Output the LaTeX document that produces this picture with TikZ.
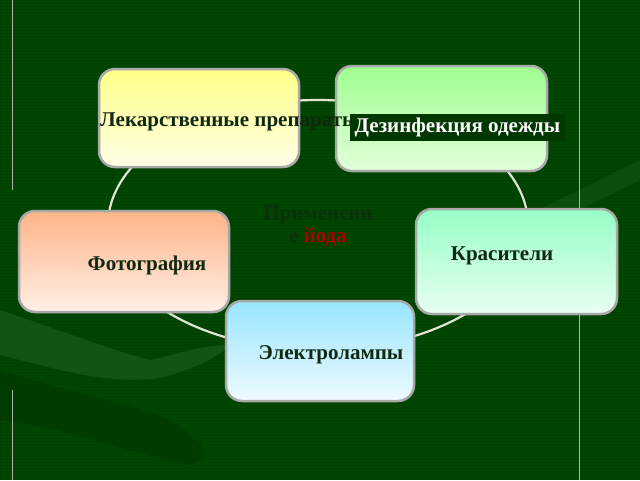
\documentclass[tikz,border=0pt]{standalone}
\usepackage{fontspec}
\setmainfont{Liberation Serif}
\definecolor{bg}{HTML}{004600}
\definecolor{bgline}{HTML}{004000}
\definecolor{swl}{HTML}{1A5A1A}
\definecolor{swd}{HTML}{003C00}
\definecolor{frame}{HTML}{A8A8A8}
\definecolor{ring}{HTML}{E4E4D4}
\definecolor{txt}{HTML}{102810}
\definecolor{ghost}{HTML}{0C300C}
\definecolor{iodine}{HTML}{B00000}
\definecolor{lbl}{HTML}{003800}
\definecolor{yt}{HTML}{FFFF88}\definecolor{yb}{HTML}{FFFFE6}
\definecolor{gt}{HTML}{A0FF90}\definecolor{gb}{HTML}{E2FFDA}
\definecolor{ot}{HTML}{FFB488}\definecolor{ob}{HTML}{FFF0E6}
\definecolor{mt}{HTML}{96FFC4}\definecolor{mb}{HTML}{E8FFF2}
\definecolor{bt}{HTML}{98E6FF}\definecolor{bb}{HTML}{EEFAFF}
\tikzset{
  card/.style={draw=frame, line width=2.5pt, rounded corners=16pt, inner sep=0pt},
  cardtext/.style={font=\bfseries\fontsize{21}{23}\selectfont, text=txt, inner sep=0pt},
  vline/.style={draw=gray!60, line width=0.8pt},
}
\begin{document}
\begin{tikzpicture}[x=1pt,y=-1pt]
\useasboundingbox (0,0) rectangle (640,480);
\fill[bg] (0,0) rectangle (640,480);
\foreach \k in {0,3,...,477} {\fill[bgline] (0,\k) rectangle (640,\k+1);}
% background swooshes
\fill[swd] (0,370) .. controls (60,390) and (120,400) .. (170,420)
  .. controls (200,440) and (220,455) .. (190,465)
  .. controls (150,460) and (80,430) .. (0,420) -- cycle;
\fill[swl,opacity=0.7] (0,310) .. controls (60,330) and (110,350) .. (150,360)
  .. controls (175,355) and (200,345) .. (230,345)
  .. controls (215,360) and (190,370) .. (160,378)
  .. controls (110,385) and (60,370) .. (0,355) -- cycle;
\fill[swl,opacity=0.45] (420,262) .. controls (500,230) and (580,190) .. (640,160)
  -- (640,180) .. controls (580,210) and (500,250) .. (428,276) -- cycle;
% frame lines
\draw[vline] (12,0) -- (12,190);
\draw[vline] (12,390) -- (12,480);
\draw[vline] (579,0) -- (579,480);
% ring
\draw[ring, line width=2.2pt] (318,225) ellipse [x radius=210, y radius=125];
% cards
\node[card, top color=yt, bottom color=yb, minimum width=200pt, minimum height=98pt] (lek) at (199,118) {};
\node[card, top color=gt, bottom color=gb, minimum width=211pt, minimum height=105pt] (dez) at (441.5,118.5) {};
\node[card, top color=ot, bottom color=ob, minimum width=210pt, minimum height=101pt] (foto) at (124,261.5) {};
\node[card, top color=mt, bottom color=mb, minimum width=201pt, minimum height=105pt] (kras) at (516.5,261.5) {};
\node[card, top color=bt, bottom color=bb, minimum width=188pt, minimum height=100pt] (elek) at (320,351) {};
% texts
\node[cardtext, anchor=west] (lekt) at (100,122) {Лекарственные препараты};
\node[cardtext, fill=lbl, text=white, minimum width=215pt, minimum height=27pt] (dezt) at (457.5,127.5) {Дезинфекция одежды};
\node[cardtext] (fotot) at (147,265) {Фотография};
\node[cardtext] (krast) at (502,256) {Красители};
\node[cardtext] (elekt) at (331,355) {Электролампы};
\node[cardtext, text=ghost, align=center] (center) at (318,226) {Применени\\е {\color{iodine}йода}};
\end{tikzpicture}
\end{document}
